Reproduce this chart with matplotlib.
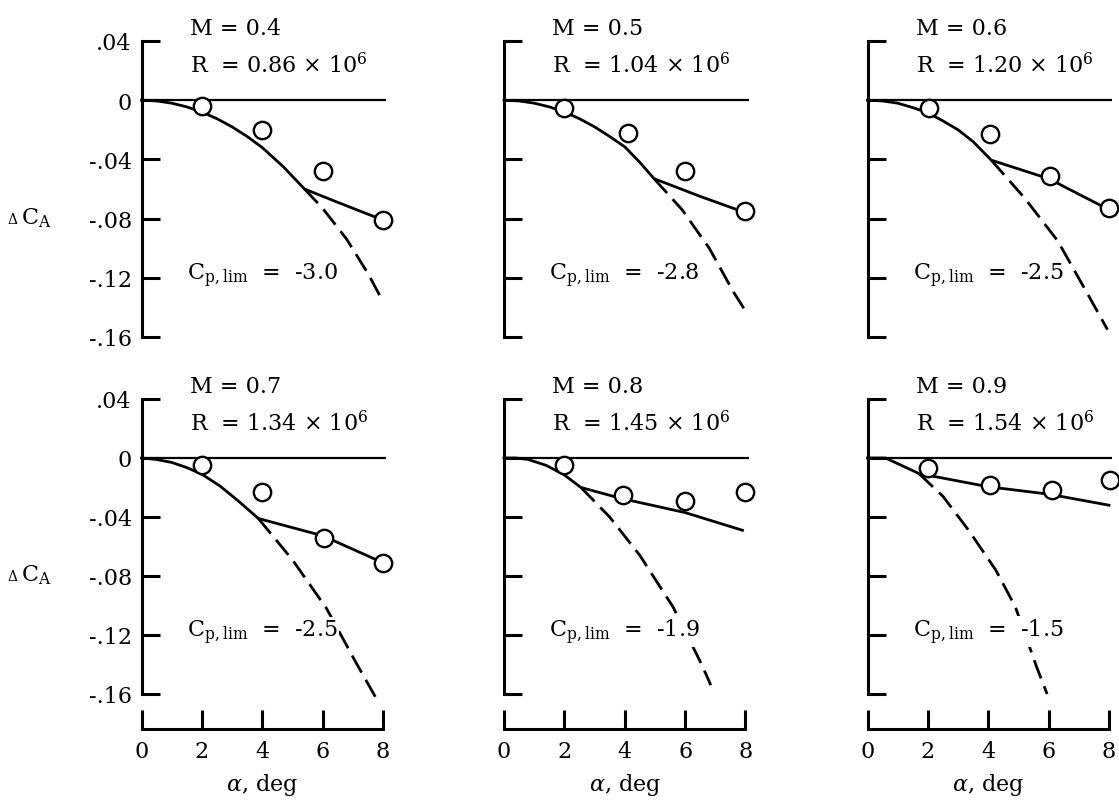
import matplotlib.pyplot as plt

plt.rcParams['font.family'] = 'DejaVu Serif'
plt.rcParams['mathtext.fontset'] = 'dejavuserif'

# run conditions, one per panel
mach = ["0.4", "0.5", "0.6", "0.7", "0.8", "0.9"]
reynolds = ["0.86", "1.04", "1.20", "1.34", "1.45", "1.54"]
cp_lim = ["-3.0", "-2.8", "-2.5", "-2.5", "-1.9", "-1.5"]

# measured points (circles)
exp_alpha = [
    [2.0, 4.0, 6.0, 8.0],
    [2.0, 4.1, 6.0, 8.0],
    [2.05, 4.05, 6.05, 8.0],
    [2.0, 4.0, 6.05, 8.0],
    [2.0, 3.95, 6.0, 8.0],
    [2.0, 4.05, 6.1, 8.05],
]
exp_dca = [
    [-0.004, -0.020, -0.048, -0.081],
    [-0.005, -0.022, -0.048, -0.075],
    [-0.005, -0.023, -0.051, -0.073],
    [-0.005, -0.023, -0.054, -0.071],
    [-0.005, -0.025, -0.029, -0.023],
    [-0.007, -0.018, -0.022, -0.015],
]

# estimate, solid line
est_alpha = [
    [0, 0.5, 1, 1.5, 2, 2.5, 3, 3.5, 4, 4.7, 5.4, 6.5, 8],
    [0, 0.5, 1, 1.5, 2, 2.5, 3, 3.5, 4, 4.5, 4.97, 6.5, 8],
    [0, 0.5, 1, 1.5, 2, 2.5, 3, 3.5, 4.1, 6, 8],
    [0, 0.5, 1, 1.5, 2, 2.6, 3.2, 3.87, 6, 8],
    [0, 0.4, 0.8, 1.4, 2, 2.55, 3.9, 6, 7.9],
    [0, 0.6, 1.7, 4, 6, 8],
]
est_dca = [
    [0, -0.0005, -0.002, -0.0045, -0.008, -0.0125, -0.018, -0.0245, -0.032,
     -0.045, -0.060, -0.069, -0.081],
    [0, -0.0005, -0.002, -0.0045, -0.008, -0.0125, -0.018, -0.0245, -0.0315,
     -0.042, -0.053, -0.065, -0.076],
    [0, -0.0005, -0.002, -0.005, -0.0085, -0.014, -0.020, -0.028, -0.0405,
     -0.053, -0.074],
    [0, -0.001, -0.003, -0.0065, -0.011, -0.019, -0.029, -0.041, -0.0527, -0.071],
    [0, 0, -0.001, -0.005, -0.0115, -0.020, -0.0275, -0.037, -0.049],
    [0, 0, -0.0105, -0.0195, -0.0245, -0.032],
]

# without the pressure limit, dashed line
lim_alpha = [
    [5.4, 6.0, 6.8, 7.5, 8.0],
    [4.97, 5.9, 6.8, 7.6, 8.05],
    [4.1, 5.2, 6.3, 7.35, 7.95],
    [3.87, 5.0, 6.13, 7.1, 7.75],
    [2.55, 3.5, 4.5, 5.6, 6.55, 6.85],
    [1.7, 2.5, 3.35, 4.25, 4.9, 5.6, 5.95],
]
lim_dca = [
    [-0.060, -0.073, -0.094, -0.117, -0.136],
    [-0.053, -0.074, -0.100, -0.1295, -0.144],
    [-0.0405, -0.066, -0.095, -0.133, -0.155],
    [-0.041, -0.069, -0.102, -0.1385, -0.162],
    [-0.020, -0.040, -0.066, -0.101, -0.140, -0.154],
    [-0.0105, -0.026, -0.049, -0.076, -0.101, -0.1415, -0.160],
]

yticks = [0.04, 0, -0.04, -0.08, -0.12, -0.16]
ytick_labels = [".04", "0", "-.04", "-.08", "-.12", "-.16"]
xticks = [0, 2, 4, 6, 8]

W, H = 1119, 804
fig = plt.figure(figsize=(W / 100, H / 100), dpi=100)

col_left = [141.5, 504, 867.5]
ax_w = 244.5
rows = [(1 - 338 / H, 296 / H), (1 - 695 / H, 295 / H)]
fs = 16

for i in range(6):
    r, c = divmod(i, 3)
    bottom, height = rows[r]
    ax = fig.add_axes([col_left[c] / W, bottom, ax_w / W, height])
    ax.set_xlim(0, 8.1)
    ax.set_ylim(-0.16, 0.04)
    for s in ['top', 'right']:
        ax.spines[s].set_visible(False)
    ax.spines['left'].set_linewidth(2.2)
    ax.spines['left'].set_bounds(-0.16, 0.04)

    ax.axhline(0, color='k', lw=1.6)
    ax.plot(est_alpha[i], est_dca[i], color='k', lw=2, solid_joinstyle='round',
            clip_on=False)
    ax.plot(lim_alpha[i], lim_dca[i], color='k', lw=2, dashes=(7, 3), clip_on=False)
    ax.plot(exp_alpha[i], exp_dca[i], 'o', ms=12.5, mfc='white', mec='k', mew=1.7,
            zorder=5, clip_on=False)

    ax.text(1.6, 0.045, "M = " + mach[i], fontsize=fs, va='baseline')
    ax.text(1.6, 0.019, "R  = " + reynolds[i] + r" $\times$ 10$^{6}$", fontsize=fs,
            va='baseline')
    ax.text(1.5, -0.121, r"C$_{\rm p,lim}$  =  " + cp_lim[i], fontsize=fs,
            va='baseline', zorder=4,
            bbox=dict(facecolor='white', edgecolor='none', pad=1))

    ax.set_yticks(yticks)
    ax.tick_params(axis='y', direction='in', length=13, width=2.2, pad=7, labelsize=fs)
    if c == 0:
        ax.set_yticklabels(ytick_labels)
        ax.text(-4.45, -0.083, r"$\Delta$", fontsize=10, va='baseline', clip_on=False)
        ax.text(-4.0, -0.083, r"C$_{\rm A}$", fontsize=fs, va='baseline', clip_on=False)
    else:
        ax.tick_params(axis='y', labelleft=False)

    if r == 0:
        ax.spines['bottom'].set_visible(False)
        ax.set_xticks([])
    else:
        ax.spines['bottom'].set_position(('outward', 25))
        ax.spines['bottom'].set_linewidth(2.2)
        ax.spines['bottom'].set_bounds(0, 8)
        ax.set_xticks(xticks)
        ax.tick_params(axis='x', direction='in', length=14, width=2.2, pad=8, labelsize=fs)
        ax.set_xlabel(r"$\alpha$, deg", fontsize=fs)
        ax.xaxis.set_label_coords(4 / 8.1, -0.26)

fig.savefig("out.png", dpi=100)
